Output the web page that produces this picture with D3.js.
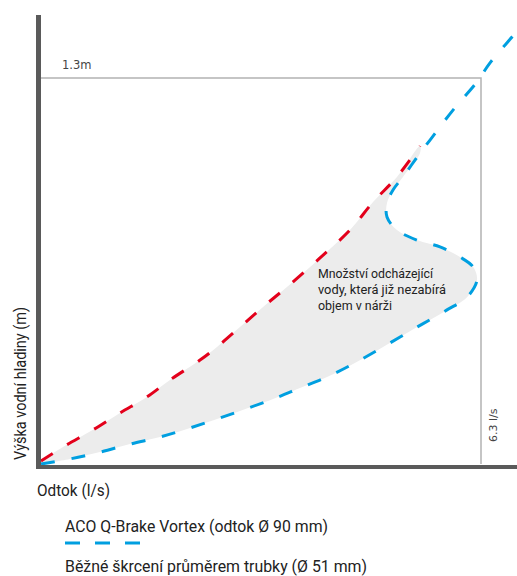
<!DOCTYPE html>
<html>
<head>
<meta charset="utf-8">
<script src="https://cdn.jsdelivr.net/npm/d3@7"></script>
<style>
  body { margin: 0; background: #fff; }
  svg { display: block; }
  .narrow { font-family: Roboto, "Liberation Sans", sans-serif; }
</style>
</head>
<body>
<div id="chart"></div>
<script>
// flow (l/s) and water height (m)
var vortexFlow   = [0, 0.415, 0.845, 1.274, 1.704, 2.090, 2.563, 3.322, 3.708, 4.095, 4.467, 4.897, 5.384, 5.813, 6.100, 6.243, 6.186, 5.999, 5.713, 5.384, 5.097, 4.954, 4.954, 5.040, 5.183, 5.427, 5.570, 5.899, 6.243, 6.429, 6.744, 6.830];
var vortexHeight = [0, 0.017, 0.040, 0.067, 0.091, 0.118, 0.155, 0.219, 0.256, 0.293, 0.337, 0.394, 0.461, 0.519, 0.562, 0.620, 0.664, 0.697, 0.731, 0.754, 0.788, 0.832, 0.879, 0.923, 0.967, 1.047, 1.091, 1.192, 1.287, 1.351, 1.438, 1.462];
var pipeFlow   = [0, 0.315, 0.745, 1.131, 1.518, 1.847, 2.277, 2.520, 2.849, 3.179, 3.522, 3.995, 4.424, 4.754, 5.097, 5.427];
var pipeHeight = [0.010, 0.057, 0.115, 0.172, 0.226, 0.283, 0.350, 0.394, 0.461, 0.529, 0.596, 0.694, 0.788, 0.882, 0.967, 1.071];
var maxFlow = 6.3, maxHeight = 1.3;
var legendLabels = ["ACO Q-Brake Vortex (odtok Ø 90 mm)", "Běžné škrcení průměrem trubky (Ø 51 mm)"];
var noteLines = ["Množství odcházející", "vody, která již nezabírá", "objem v nárži"];

var w = 517, h = 576;
var blue = "#009fe0", red = "#e3001b";

var svg = d3.select("#chart").append("svg").attr("width", w).attr("height", h);

var x = d3.scaleLinear().domain([0, maxFlow]).range([41, 481]);
var y = d3.scaleLinear().domain([0, maxHeight]).range([464, 78]);

var vortex = vortexFlow.map(function(d, i) { return [d, vortexHeight[i]]; });
var pipe = pipeFlow.map(function(d, i) { return [d, pipeHeight[i]]; });

var line = d3.line()
  .x(function(d) { return x(d[0]); })
  .y(function(d) { return y(d[1]); })
  .curve(d3.curveCatmullRom.alpha(0.5));

// condensed look: squeeze the glyphs to the width seen in the picture
function narrowText(sel, len) {
  return sel.attr("class", "narrow")
    .attr("textLength", len)
    .attr("lengthAdjust", "spacingAndGlyphs");
}

// grey area between the two curves (up to where they meet)
var meet = vortexFlow.indexOf(5.427, 20);
var area = pipe.concat(vortex.slice(0, meet + 1).reverse());
svg.append("path")
  .attr("d", line(area) + "Z")
  .attr("fill", "#ececec");

// reference lines for 1.3 m and 6.3 l/s
svg.append("path")
  .attr("d", "M" + x(0) + "," + y(maxHeight) + "H" + x(maxFlow) + "V" + y(0))
  .attr("fill", "none")
  .attr("stroke", "#b3b3b3")
  .attr("stroke-width", 1.5);

svg.append("text")
  .attr("x", 62).attr("y", y(maxHeight) - 9)
  .attr("font-family", "DejaVu Sans, sans-serif")
  .attr("font-size", 11.5)
  .attr("fill", "#444")
  .text(maxHeight + "m");

svg.append("text")
  .attr("transform", "translate(" + (x(maxFlow) + 16) + ",442) rotate(-90)")
  .attr("font-family", "DejaVu Sans, sans-serif")
  .attr("font-size", 11)
  .attr("fill", "#444")
  .text(maxFlow + " l/s");

// curves
svg.append("path")
  .attr("d", line(pipe))
  .attr("fill", "none")
  .attr("stroke", red)
  .attr("stroke-width", 3)
  .attr("stroke-dasharray", "14,17");

svg.append("path")
  .attr("d", line(vortex))
  .attr("fill", "none")
  .attr("stroke", blue)
  .attr("stroke-width", 3)
  .attr("stroke-dasharray", "14,17");

// axes (no ticks, just heavy bars)
svg.append("line")
  .attr("x1", 38.5).attr("x2", 38.5).attr("y1", 15).attr("y2", 469)
  .attr("stroke", "#5a5a5a").attr("stroke-width", 5);
svg.append("line")
  .attr("x1", 36).attr("x2", w).attr("y1", 467).attr("y2", 467)
  .attr("stroke", "#5a5a5a").attr("stroke-width", 4);

narrowText(svg.append("text"), 73)
  .attr("x", 37).attr("y", 496)
  .attr("font-size", 17)
  .attr("fill", "#222")
  .text("Odtok (l/s)");

narrowText(svg.append("text"), 153)
  .attr("transform", "translate(26,460) rotate(-90)")
  .attr("font-size", 17)
  .attr("fill", "#222")
  .text("Výška vodní hladiny (m)");

// note inside the grey area
var noteWidths = [115, 128, 74];
svg.append("g")
  .selectAll("text")
  .data(noteLines)
  .enter()
  .append("text")
  .each(function(d, i) { narrowText(d3.select(this), noteWidths[i]); })
  .attr("x", 318)
  .attr("y", function(d, i) { return 278 + i * 16; })
  .attr("font-size", 13.5)
  .attr("fill", "#222")
  .text(function(d) { return d; });

// legend
narrowText(svg.append("text"), 263)
  .attr("x", 65).attr("y", 532)
  .attr("font-size", 17)
  .attr("fill", "#222")
  .text(legendLabels[0]);
svg.append("line")
  .attr("x1", 65).attr("x2", 140).attr("y1", 543).attr("y2", 543)
  .attr("stroke", blue).attr("stroke-width", 3)
  .attr("stroke-dasharray", "15,15");
narrowText(svg.append("text"), 302)
  .attr("x", 65).attr("y", 572)
  .attr("font-size", 17)
  .attr("fill", "#222")
  .text(legendLabels[1]);
</script>
</body>
</html>
